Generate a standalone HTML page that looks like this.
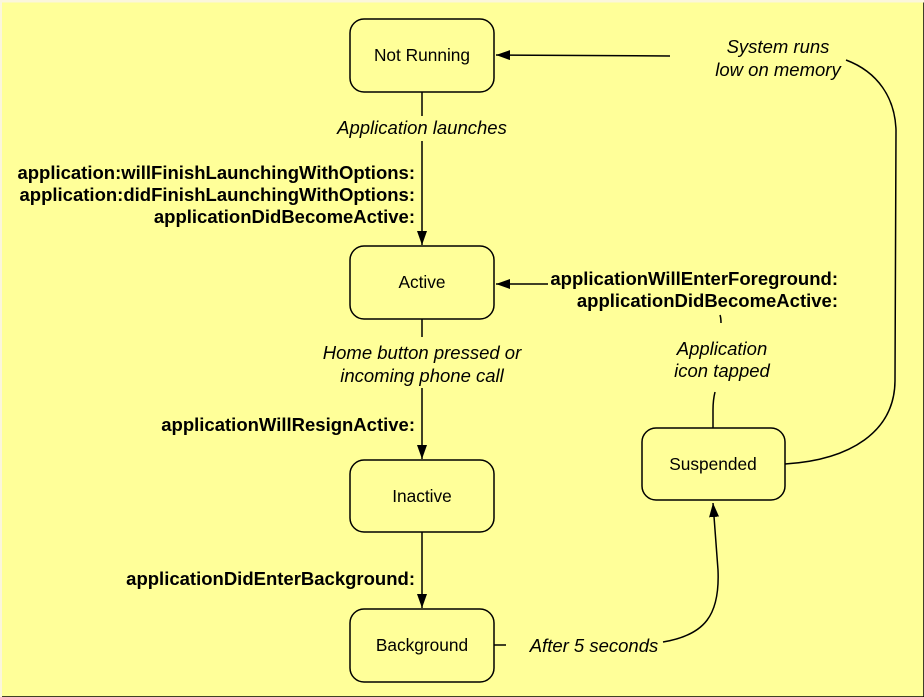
<!DOCTYPE html>
<html><head><style>
html,body{margin:0;padding:0;background:#ffff99;}
svg{display:block;}
text{font-family:"Liberation Sans",Arial,sans-serif;fill:#000;}
.n{font-size:17.3px;text-anchor:middle;}
.b{font-size:18.5px;font-weight:bold;text-anchor:end;}
.i{font-size:18.5px;font-style:italic;text-anchor:middle;}
rect{fill:#ffff99;stroke:#000;stroke-width:1.5;}
.l{fill:none;stroke:#000;stroke-width:1.5;}
</style></head><body>
<svg width="924" height="697" viewBox="0 0 924 697">
<defs><marker id="a" viewBox="0 0 14 10" refX="14" refY="5" markerWidth="14" markerHeight="10" markerUnits="userSpaceOnUse" orient="auto"><path d="M0,0 L14,5 L0,10 z" fill="#000"/></marker></defs>
<rect x="0" y="0" width="924" height="697" fill="#ffff99" stroke="none"/>
<line x1="0" y1="1" x2="924" y2="1" stroke="#fbf6dc" stroke-width="3"/>
<line x1="1" y1="0" x2="1" y2="697" stroke="#fbf6dc" stroke-width="2"/>
<rect x="350" y="19" width="144" height="73" rx="14"/>
<text class="n" x="422" y="61">Not Running</text>
<rect x="350" y="246" width="144" height="73" rx="14"/>
<text class="n" x="422" y="288">Active</text>
<rect x="350" y="460" width="144" height="72" rx="14"/>
<text class="n" x="422" y="502">Inactive</text>
<rect x="350" y="609" width="144" height="73" rx="14"/>
<text class="n" x="422" y="651">Background</text>
<rect x="642" y="428" width="143" height="72" rx="14"/>
<text class="n" x="713" y="470">Suspended</text>

<line class="l" x1="422" y1="92" x2="422" y2="116"/>
<line class="l" x1="422" y1="141" x2="422" y2="245" marker-end="url(#a)"/>
<text class="i" x="422" y="134">Application launches</text>
<text class="b" x="415" y="179">application:willFinishLaunchingWithOptions:</text>
<text class="b" x="415" y="201">application:didFinishLaunchingWithOptions:</text>
<text class="b" x="415" y="223">applicationDidBecomeActive:</text>

<line class="l" x1="422" y1="319" x2="422" y2="337"/>
<line class="l" x1="422" y1="388" x2="422" y2="459" marker-end="url(#a)"/>
<text class="i" x="422" y="359">Home button pressed or</text>
<text class="i" x="422" y="382">incoming phone call</text>
<text class="b" x="415" y="431">applicationWillResignActive:</text>

<line class="l" x1="422" y1="532" x2="422" y2="608" marker-end="url(#a)"/>
<text class="b" x="415" y="585">applicationDidEnterBackground:</text>

<line class="l" x1="494" y1="645" x2="506" y2="645"/>
<text class="i" x="594" y="652">After 5 seconds</text>
<path class="l" d="M663,642 C705,635 720,615 718,570 L713,503" marker-end="url(#a)"/>

<path class="l" d="M785,464 C850,460 895,432 895,380 L896,130 C895,98 878,72 846,60"/>
<line class="l" x1="670" y1="56" x2="496" y2="55" marker-end="url(#a)"/>
<text class="i" x="778" y="53">System runs</text>
<text class="i" x="778" y="76">low on memory</text>

<path class="l" d="M713,428 L713,410 C713,400 714,396 715,392"/>
<path class="l" d="M720,315 C721,318 721,320 721,323"/>
<text class="i" x="722" y="355">Application</text>
<text class="i" x="722" y="377">icon tapped</text>
<line class="l" x1="548" y1="284" x2="496" y2="284" marker-end="url(#a)"/>
<text class="b" x="838" y="285">applicationWillEnterForeground:</text>
<text class="b" x="838" y="307">applicationDidBecomeActive:</text>
</svg>
</body></html>
